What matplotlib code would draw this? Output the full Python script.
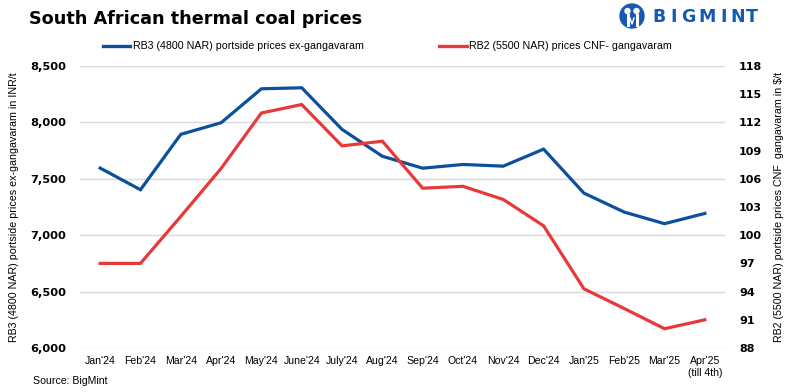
import matplotlib
matplotlib.use("Agg")
import matplotlib.pyplot as plt
from matplotlib.patches import Ellipse
from matplotlib.lines import Line2D

months = ["Jan'24", "Feb'24", "Mar'24", "Apr'24", "May'24", "June'24", "July'24",
          "Aug'24", "Sep'24", "Oct'24", "Nov'24", "Dec'24", "Jan'25", "Feb'25",
          "Mar'25", "Apr'25\n(till 4th)"]
rb3_inr = [7595, 7403, 7894, 7997, 8298, 8307, 7938, 7700, 7594, 7627, 7612,
           7763, 7373, 7205, 7102, 7193]
rb2_usd = [97.0, 97.0, 102.0, 107.1, 113.0, 113.9, 109.5, 110.0, 105.0, 105.2,
           103.8, 101.0, 94.3, 92.2, 90.05, 91.0]
left_ticks = [6000, 6500, 7000, 7500, 8000, 8500]
right_ticks = [88, 91, 94, 97, 100, 103, 106, 109, 112, 115, 118]

BLUE = "#0b4f9e"
RED = "#e8393a"
FONT = "Liberation Sans"
BOLD_FONT = "DejaVu Sans"

plt.rcParams['font.family'] = [FONT, 'DejaVu Sans']

fig = plt.figure(figsize=(7.91, 3.92), dpi=100)
ax = fig.add_axes([80/791, 1-348/392, 645/791, (348-66)/392])
ax2 = ax.twinx()

x = list(range(len(months)))
ax.plot(x, rb3_inr, color=BLUE, lw=2.3, solid_joinstyle='miter', zorder=3)
ax2.plot(x, rb2_usd, color=RED, lw=2.3, solid_joinstyle='miter', zorder=3)

ax.set_xlim(-0.5, len(months) - 0.5)
ax.set_ylim(6000, 8500)
ax2.set_ylim(88, 118)
ax.set_yticks(left_ticks)
ax.set_yticklabels([f"{v:,}" for v in left_ticks], fontweight='bold', fontsize=8.2,
                   family=BOLD_FONT)
ax2.set_yticks(right_ticks)
ax2.set_yticklabels([str(v) for v in right_ticks], fontweight='bold', fontsize=8.0,
                    family=BOLD_FONT)
ax.set_xticks(x)
ax.set_xticklabels(months, fontsize=7.6, va='top', linespacing=1.2)

ax.grid(axis='y', color='#d9d9d9', lw=1.0)
ax.set_axisbelow(True)
for a in (ax, ax2):
    for s in a.spines.values():
        s.set_visible(False)
    a.tick_params(length=0)
ax.tick_params(axis='y', pad=10)
ax.tick_params(axis='x', pad=6)
ax2.tick_params(axis='y', pad=10)

ax.set_ylabel("RB3 (4800 NAR) portside prices ex-gangavaram in INR/t", fontsize=7.7)
ax.yaxis.set_label_coords(-61/645, 0.5)
ax2.set_ylabel("RB2 (5500 NAR) portside prices CNF  gangavaram in $/t", fontsize=7.7,
               rotation=90)
ax2.yaxis.set_label_coords(1 + 49/645, 0.5)

# Title
fig.text(29/791, 1-19/392, "South African thermal coal prices", fontsize=12.7,
         fontweight='bold', ha='left', va='center', family=BOLD_FONT)

# Legend (manual)
ly = 1 - 45.7/392
fig.add_artist(Line2D([103/791, 130/791], [ly, ly], color=BLUE, lw=2.4,
                      transform=fig.transFigure))
fig.text(133/791, ly, "RB3 (4800 NAR) portside prices ex-gangavaram", fontsize=7.7,
         ha='left', va='center')
fig.add_artist(Line2D([439/791, 467/791], [ly, ly], color=RED, lw=2.4,
                      transform=fig.transFigure))
fig.text(469/791, ly, "RB2 (5500 NAR) prices CNF- gangavaram", fontsize=7.7,
         ha='left', va='center')

# Source
fig.text(33/791, 1-381/392, "Source: BigMint", fontsize=7.6, ha='left', va='center')

# Logo
LOGO = "#1559b0"
cx, cy, r = 632, 16, 12
fig.add_artist(Ellipse((cx/791, 1-cy/392), 2*r/791, 2*r/392, color=LOGO,
                       transform=fig.transFigure))
for dx in (-4.5, 4.5):
    fig.add_artist(Ellipse(((cx+dx)/791, 1-(cy-5)/392), 5/791, 5/392, color='white',
                           transform=fig.transFigure))
    fig.add_artist(Line2D([(cx+dx)/791, (cx+dx)/791], [1-(cy-1)/392, 1-(cy+9)/392],
                          color='white', lw=2.2, transform=fig.transFigure))
fig.add_artist(Line2D([(cx-2)/791, cx/791, (cx+2)/791],
                      [1-(cy+2)/392, 1-(cy+8)/392, 1-(cy+2)/392],
                      color='white', lw=1.0, transform=fig.transFigure))
letters = "BIGMINT"
centers = [659.5, 673.5, 688.5, 707.5, 723.5, 737.5, 752.0]
for ch, c in zip(letters, centers):
    fig.text(c/791, 1-17/392, ch, fontsize=12.5, fontweight='bold', color=LOGO,
             ha='center', va='center', family='DejaVu Sans')

fig.savefig("out.png", dpi=100)
